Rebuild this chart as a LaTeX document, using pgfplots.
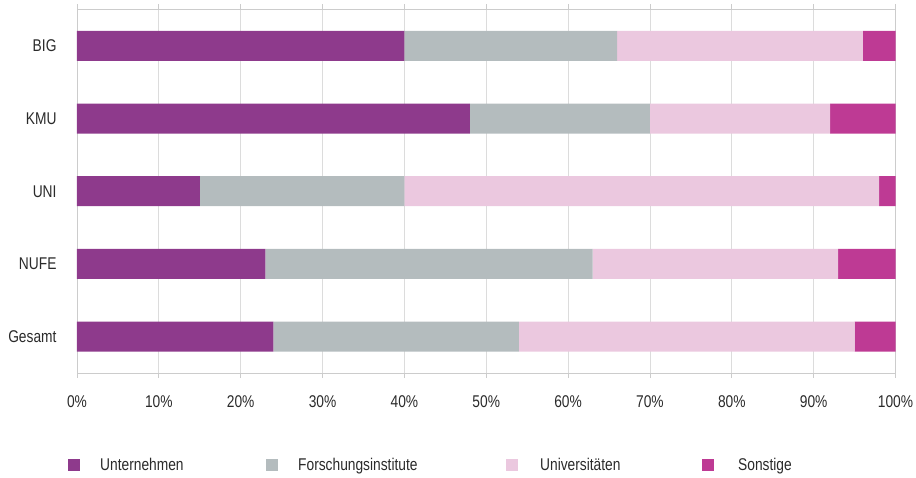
\documentclass[border=0pt]{standalone}
\usepackage{pgfplots}
\pgfplotsset{compat=1.18}
\usepackage{fontspec}
\setmainfont{Liberation Sans}[FakeStretch=0.81]
\definecolor{cUnt}{HTML}{8E3A8C}
\definecolor{cFor}{HTML}{B4BCBE}
\definecolor{cUni}{HTML}{EBC8DF}
\definecolor{cSon}{HTML}{BE3A94}
\definecolor{cGrid}{HTML}{DCDCDC}
\definecolor{cAxis}{HTML}{CCCCCC}
\definecolor{cText}{HTML}{2A2A2A}
\pgfplotsset{sqlegend/.style={legend image code/.code={\fill[##1] (0pt,-6pt) rectangle (12pt,6pt);}}}
\begin{document}
\begin{tikzpicture}
\path[use as bounding box] (-77pt,-105pt) rectangle (839pt,373pt);
\begin{axis}[
  at={(0,0)}, anchor=south west,
  scale only axis,
  width=818.5pt, height=363.5pt,
  xbar stacked,
  bar width=30pt,
  xmin=0, xmax=100,
  ymin=-0.5, ymax=4.5,
  xtick={0,10,...,100},
  xticklabels={0\%,10\%,20\%,30\%,40\%,50\%,60\%,70\%,80\%,90\%,100\%},
  ytick={0,1,2,3,4},
  yticklabels={Gesamt,NUFE,UNI,KMU,BIG},
  minor ytick={-0.5,0.5,1.5,2.5,3.5,4.5},
  tick align=outside,
  major tick length=5pt,
  minor tick length=7pt,
  ytick style={draw=none},
  minor tick style={draw=cAxis, line width=0.8pt},
  xtick style={draw=cAxis, line width=0.8pt},
  xmajorgrids,
  major grid style={draw=cGrid, line width=0.8pt},
  axis line style={draw=cAxis, line width=0.8pt},
  font=\fontsize{17}{20}\selectfont,
  tick label style={text=cText},
  xticklabel style={yshift=-14pt},
  yticklabel style={xshift=-12pt},
  every axis plot/.append style={draw=none, sqlegend},
  legend columns=4,
  legend style={
    at={(rel axis cs:0,0)}, anchor=west,
    xshift=-9pt, yshift=-92pt,
    draw=none, fill=none, inner sep=0pt,
    font=\fontsize{17}{20}\selectfont,
    text=cText,
    nodes={inner sep=0pt, anchor=west},
  },
]
\addplot[fill=cUnt] coordinates {(24,0) (23,1) (15,2) (48,3) (40,4)};
\addplot[fill=cFor] coordinates {(30,0) (40,1) (25,2) (22,3) (26,4)};
\addplot[fill=cUni] coordinates {(41,0) (30,1) (58,2) (22,3) (30,4)};
\addplot[fill=cSon] coordinates {(5,0) (7,1) (2,2) (8,3) (4,4)};
\legend{\hspace*{20pt}\makebox[166pt][l]{Unternehmen},\hspace*{20pt}\makebox[208pt][l]{Forschungsinstitute},\hspace*{22pt}\makebox[162pt][l]{Universitäten},\hspace*{24pt}Sonstige}
\end{axis}
\end{tikzpicture}
\end{document}
